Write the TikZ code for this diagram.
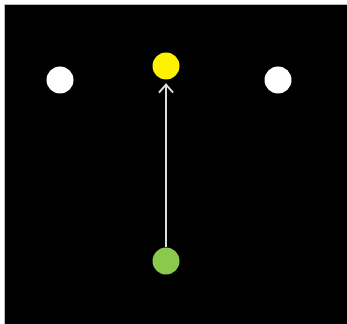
\documentclass[tikz,border=0pt]{standalone}
\usetikzlibrary{arrows.meta}
\definecolor{dotgreen}{HTML}{8BC94C}
\definecolor{framegray}{HTML}{BBBBBB}
\definecolor{arrowgray}{HTML}{DDDDDD}
\begin{document}
\begin{tikzpicture}[x=1pt,y=-1pt,
  dot/.style={circle,minimum size=27pt,inner sep=0pt,draw=none},
  link/.style={draw=arrowgray,line width=1.8pt,-{Straight Barb[length=8pt,width=14pt,line width=1.8pt]}}]
\useasboundingbox (0,0) rectangle (347,323);
\fill[white] (0,0) rectangle (347,323);
\filldraw[fill=black,draw=framegray,line width=1pt] (4.5,4.5) rectangle (348,324);
\node[dot,fill=white] (left) at (60,80) {};
\node[dot,fill=yellow] (top) at (166,66) {};
\node[dot,fill=white] (right) at (278,80) {};
\node[dot,fill=dotgreen] (bottom) at (166,261) {};
\draw[link] (bottom) -- ([yshift=-3.5pt]top.south);
\end{tikzpicture}
\end{document}
